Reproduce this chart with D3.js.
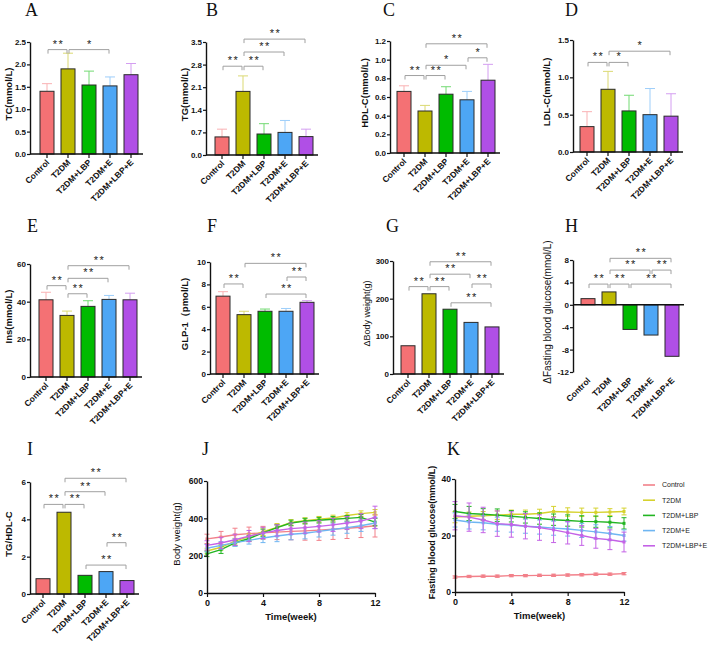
<!DOCTYPE html>
<html>
<head>
<meta charset="utf-8">
<script src="https://cdn.jsdelivr.net/npm/d3@7"></script>
<style>
  body { margin: 0; background: #fff; }
</style>
</head>
<body>
<svg id="fig" width="709" height="646"></svg>
<script>
const FONT = "'Liberation Sans', Arial, sans-serif";
const SERIF = "'Liberation Serif', 'Times New Roman', serif";

const groups = ["Control", "T2DM", "T2DM+LBP", "T2DM+E", "T2DM+LBP+E"];
const barColors = ["#f47174", "#bdb900", "#00bb00", "#4da6f5", "#b04fe6"];
const lineColors = ["#f2808a", "#d6d22e", "#22b522", "#6fb6f2", "#c462e6"];

// bar panels: mean, upper error, significance [from, to, level, stars]
const tcMean = [1.40, 1.90, 1.54, 1.52, 1.77];
const tcErr = [0.17, 0.35, 0.31, 0.20, 0.25];
const tcSig = [[0, 1, 2.33, "**"], [1, 3, 2.33, "*"]];

const tgMean = [0.56, 1.97, 0.65, 0.70, 0.57];
const tgErr = [0.24, 0.48, 0.32, 0.37, 0.23];
const tgSig = [[0, 1, 2.75, "**"], [1, 2, 2.75, "**"], [1, 3, 3.19, "**"], [1, 4, 3.59, "**"]];

const hdlMean = [0.66, 0.45, 0.63, 0.57, 0.78];
const hdlErr = [0.06, 0.06, 0.08, 0.09, 0.17];
const hdlSig = [[0, 1, 0.83, "**"], [1, 2, 0.83, "**"], [1, 3, 0.94, "*"], [3, 4, 1.02, "*"], [1, 4, 1.17, "**"]];

const ldlMean = [0.34, 0.84, 0.55, 0.50, 0.48];
const ldlErr = [0.20, 0.24, 0.21, 0.35, 0.30];
const ldlSig = [[0, 1, 1.2, "**"], [1, 2, 1.2, "*"], [1, 4, 1.35, "*"]];

const insMean = [41.0, 32.7, 37.5, 41.2, 41.0];
const insErr = [4.0, 2.3, 3.0, 2.1, 3.5];
const insSig = [[0, 1, 48.5, "**"], [1, 2, 44.2, "**"], [1, 3, 52.4, "**"], [1, 4, 59.1, "**"]];

const glpMean = [6.95, 5.30, 5.60, 5.60, 6.40];
const glpErr = [0.40, 0.30, 0.20, 0.25, 0.15];
const glpSig = [[0, 1, 8.04, "**"], [2, 4, 7.14, "**"], [3, 4, 8.66, "**"], [1, 4, 9.88, "**"]];

const bwMean = [75, 213, 172, 137, 125];
const bwSig = [[0, 1, 232, "**"], [1, 2, 232, "**"], [2, 4, 189, "**"], [3, 4, 239, "**"], [1, 3, 265, "**"], [1, 4, 298, "**"]];

const fbgMean = [1.1, 2.3, -4.4, -5.4, -9.2];
const fbgSig = [[0, 1, 3.7, "**"], [1, 2, 3.7, "**"], [2, 4, 3.7, "**"], [1, 3, 6.2, "**"], [3, 4, 6.2, "**"], [1, 4, 8.3, "**"]];

const ratioMean = [0.82, 4.38, 1.00, 1.20, 0.72];
const ratioSig = [[0, 1, 4.8, "**"], [1, 2, 4.8, "**"], [1, 3, 5.48, "**"], [1, 4, 6.2, "**"], [3, 4, 2.75, "**"], [2, 4, 1.55, "**"]];

// time courses, weeks 0..12
const weeks = d3.range(0, 13);
const bodyWeight = [
  [290, 300, 312, 318, 322, 326, 330, 333, 337, 342, 347, 352, 360],
  [225, 245, 278, 302, 328, 352, 378, 388, 395, 402, 415, 425, 432],
  [210, 232, 268, 292, 322, 350, 375, 385, 390, 395, 400, 405, 380],
  [240, 255, 270, 282, 295, 305, 315, 320, 330, 340, 350, 360, 375],
  [255, 268, 285, 305, 322, 335, 345, 350, 357, 365, 375, 385, 405]
];
const bodyWeightErr = [
  [25, 30, 35, 35, 35, 40, 45, 50, 55, 55, 55, 55, 60],
  [15, 15, 15, 15, 20, 20, 15, 15, 15, 15, 15, 15, 15],
  [15, 20, 15, 15, 20, 15, 15, 15, 15, 15, 15, 15, 20],
  [20, 20, 20, 20, 25, 30, 30, 30, 30, 30, 30, 30, 30],
  [25, 30, 30, 30, 30, 30, 30, 30, 30, 35, 35, 40, 60]
];
const glucose = [
  [5.3, 5.5, 5.6, 5.6, 5.8, 5.8, 5.9, 5.9, 6.0, 6.1, 6.3, 6.3, 6.5],
  [26.5, 26.8, 27.0, 27.2, 27.5, 27.5, 27.8, 28.5, 28.3, 28.2, 28.2, 28.3, 28.5],
  [28.5, 27.8, 27.5, 27.2, 26.8, 26.4, 26.0, 25.6, 25.3, 25.0, 24.9, 24.7, 24.3],
  [25.5, 24.8, 24.5, 24.0, 23.7, 23.3, 23.0, 22.6, 22.3, 21.8, 21.3, 20.7, 20.0],
  [27.0, 26.5, 25.5, 24.2, 23.9, 23.3, 22.8, 22.0, 21.0, 20.0, 19.0, 18.5, 17.7]
];
const glucoseErr = [
  [0.4, 0.4, 0.4, 0.4, 0.4, 0.4, 0.4, 0.4, 0.4, 0.4, 0.4, 0.4, 0.4],
  [2.0, 1.5, 1.5, 1.5, 1.5, 1.5, 1.5, 1.8, 1.5, 1.5, 1.5, 1.2, 1.2],
  [2.5, 2.5, 2.0, 2.2, 2.0, 2.0, 2.0, 2.0, 2.0, 2.0, 2.0, 2.0, 2.0],
  [2.5, 2.5, 2.5, 2.5, 2.5, 2.5, 2.5, 2.5, 2.5, 2.5, 2.5, 2.5, 2.0],
  [5.0, 5.0, 4.5, 4.5, 4.5, 4.5, 4.5, 4.5, 4.0, 3.5, 3.5, 3.5, 3.5]
];

const svg = d3.select("#fig");

function styleAxis(g, size) {
  g.select(".domain").attr("stroke", "#111").attr("stroke-width", 1.4);
  g.selectAll(".tick line").attr("stroke", "#111").attr("stroke-width", 1.2);
  g.selectAll(".tick text")
    .attr("font-family", FONT).attr("font-size", size || 8)
    .attr("font-weight", "bold").attr("fill", "#111");
}

function letter(t, x, y) {
  svg.append("text").attr("x", x).attr("y", y)
    .attr("font-family", SERIF).attr("font-size", 18).attr("fill", "#111")
    .text(t);
}

function yLabel(t, x, cy, bold, size) {
  svg.append("text")
    .attr("transform", `translate(${x},${cy}) rotate(-90)`)
    .attr("text-anchor", "middle").attr("dy", "0.35em")
    .attr("font-family", FONT).attr("font-size", size)
    .attr("font-weight", bold ? "bold" : "normal").attr("fill", "#111")
    .text(t);
}

const fmt = f => d => d3.format(f)(d).replace("\u2212", "-");

function barPanel(p) {
  const g = svg.append("g");
  const y = d3.scaleLinear().domain(p.dom).range([p.bottom, p.top]);
  const x = d3.scalePoint().domain(groups).range([p.first, p.first + 84]);
  const bw = 14;
  const y0 = y(0);

  if (p.err) {
    const eb = g.append("g");
    p.mean.forEach((m, i) => {
      const c = d3.interpolateRgb(barColors[i], "#fff")(0.45);
      const cx = x(groups[i]);
      eb.append("line").attr("x1", cx).attr("x2", cx)
        .attr("y1", y(m)).attr("y2", y(m + p.err[i]))
        .attr("stroke", c).attr("stroke-width", 1);
      eb.append("line").attr("x1", cx - 5).attr("x2", cx + 5)
        .attr("y1", y(m + p.err[i])).attr("y2", y(m + p.err[i]))
        .attr("stroke", c).attr("stroke-width", 1);
    });
  }

  g.selectAll("rect.bar").data(p.mean).join("rect")
    .attr("class", "bar")
    .attr("x", (d, i) => x(groups[i]) - bw / 2)
    .attr("width", bw)
    .attr("y", d => Math.min(y(d), y0))
    .attr("height", d => Math.abs(y(d) - y0))
    .attr("fill", (d, i) => barColors[i])
    .attr("stroke", "#2a2a2a").attr("stroke-width", 1);

  const ya = g.append("g").attr("transform", `translate(${p.left},0)`)
    .call(d3.axisLeft(y).tickValues(p.ticks).tickFormat(fmt(p.fmt)).tickSize(3).tickSizeOuter(0).tickPadding(1));
  styleAxis(ya);

  g.append("line").attr("x1", p.left).attr("x2", p.first + 84 + 12)
    .attr("y1", y0).attr("y2", y0).attr("stroke", "#111").attr("stroke-width", 1.4);

  if (!p.noTicks) {
    g.selectAll("line.ct").data(groups).join("line").attr("class", "ct")
      .attr("x1", d => x(d)).attr("x2", d => x(d))
      .attr("y1", y0).attr("y2", y0 + 4)
      .attr("stroke", "#111").attr("stroke-width", 1.2);
  }

  g.selectAll("text.cat").data(groups).join("text").attr("class", "cat")
    .attr("transform", d => `translate(${x(d) + 3},${p.bottom + 9}) rotate(-45)`)
    .attr("text-anchor", "end")
    .attr("font-family", FONT).attr("font-size", 8.5).attr("font-weight", "bold").attr("fill", "#111")
    .text(d => d);

  p.sig.forEach(([a, b, lv, s]) => {
    const ly = y(lv);
    const x1 = x(groups[a]) + 1, x2 = x(groups[b]) - 1;
    g.append("path")
      .attr("d", `M${x1},${ly + 4}V${ly}H${x2}V${ly + 4}`)
      .attr("fill", "none").attr("stroke", "#a0a0a0").attr("stroke-width", 1);
    g.append("text").attr("x", (x1 + x2) / 2 + 1).attr("y", ly - 2)
      .attr("text-anchor", "middle").attr("letter-spacing", 1.5)
      .attr("font-family", FONT).attr("font-size", 11).attr("fill", "#222")
      .text(s);
  });

  letter(p.letter, p.lx, p.ly);
  yLabel(p.label, p.labX, (p.top + p.bottom) / 2 - 4, p.bold !== false, p.labSize || 9.5);
}

function linePanel(p) {
  const g = svg.append("g");
  const x = d3.scaleLinear().domain([0, 12]).range([p.left, p.right]);
  const y = d3.scaleLinear().domain(p.dom).range([p.bottom, p.top]);

  p.data.forEach((series, k) => {
    const c = lineColors[k];
    const eg = g.append("g");
    series.forEach((v, i) => {
      const cx = x(weeks[i]), e = p.err[k][i];
      eg.append("line").attr("x1", cx).attr("x2", cx).attr("y1", y(v - e)).attr("y2", y(v + e))
        .attr("stroke", c).attr("stroke-width", 1);
      [v - e, v + e].forEach(t => {
        eg.append("line").attr("x1", cx - 2.5).attr("x2", cx + 2.5).attr("y1", y(t)).attr("y2", y(t))
          .attr("stroke", c).attr("stroke-width", 1);
      });
    });
    g.append("path").datum(series)
      .attr("d", d3.line().x((d, i) => x(weeks[i])).y(d => y(d)))
      .attr("fill", "none").attr("stroke", c).attr("stroke-width", 1.4);
    g.selectAll(null).data(series).join("rect")
      .attr("x", (d, i) => x(weeks[i]) - 1.5).attr("y", d => y(d) - 1.5)
      .attr("width", 3).attr("height", 3).attr("fill", c);
  });

  const ya = g.append("g").attr("transform", `translate(${p.left},0)`)
    .call(d3.axisLeft(y).tickValues(p.ticks).tickSize(3).tickSizeOuter(0).tickPadding(1));
  styleAxis(ya, 8.5);
  const xa = g.append("g").attr("transform", `translate(0,${p.bottom})`)
    .call(d3.axisBottom(x).tickValues([0, 4, 8, 12]).tickSize(4).tickSizeOuter(0).tickPadding(3));
  styleAxis(xa, 9);

  svg.append("text").attr("x", (p.left + p.right) / 2).attr("y", p.bottom + 27)
    .attr("text-anchor", "middle").attr("font-family", FONT).attr("font-size", 9.5)
    .attr("font-weight", "bold").attr("fill", "#111").text("Time(week)");

  letter(p.letter, p.lx, p.ly);
  yLabel(p.label, p.labX, (p.top + p.bottom) / 2 - 3, p.bold, p.labSize);

  if (p.legend) {
    const lg = svg.append("g");
    groups.forEach((name, k) => {
      const ly = p.legend.y + k * 15.2;
      lg.append("line").attr("x1", p.legend.x).attr("x2", p.legend.x + 12)
        .attr("y1", ly).attr("y2", ly).attr("stroke", lineColors[k]).attr("stroke-width", 1.6);
      lg.append("text").attr("x", p.legend.x + 19).attr("y", ly).attr("dy", "0.35em")
        .attr("font-family", FONT).attr("font-size", 7).attr("fill", "#222").text(name);
    });
  }
}

barPanel({ letter: "A", lx: 25, ly: 16, label: "TC(mmol/L)", labX: 9, left: 30, top: 42, bottom: 154, first: 47,
  dom: [0, 2.5], ticks: [0, 0.5, 1, 1.5, 2, 2.5], fmt: ".1f", mean: tcMean, err: tcErr, sig: tcSig });
barPanel({ letter: "B", lx: 206, ly: 16, label: "TG(mmol/L)", labX: 185, left: 206, top: 42, bottom: 155, first: 222,
  dom: [0, 3.5], ticks: [0, 0.7, 1.4, 2.1, 2.8, 3.5], fmt: ".1f", mean: tgMean, err: tgErr, sig: tgSig });
barPanel({ letter: "C", lx: 383, ly: 16, label: "HDL-C(mmol/L)", labX: 365, left: 390, top: 41, bottom: 153, first: 404,
  dom: [0, 1.2], ticks: [0, 0.2, 0.4, 0.6, 0.8, 1.0, 1.2], fmt: ".1f", mean: hdlMean, err: hdlErr, sig: hdlSig });
barPanel({ letter: "D", lx: 565, ly: 16, label: "LDL-C(mmol/L)", labX: 547, left: 573, top: 40, bottom: 152, first: 587,
  dom: [0, 1.5], ticks: [0, 0.5, 1.0, 1.5], fmt: ".1f", mean: ldlMean, err: ldlErr, sig: ldlSig });

barPanel({ letter: "E", lx: 27, ly: 232, label: "Ins(mmol/L)", labX: 9, left: 30, top: 264, bottom: 377, first: 46,
  dom: [0, 60], ticks: [0, 20, 40, 60], fmt: "d", mean: insMean, err: insErr, sig: insSig });
barPanel({ letter: "F", lx: 207, ly: 232, label: "GLP-1\uff08pmol/L)", labX: 185, left: 210, top: 262, bottom: 374, first: 223,
  dom: [0, 10], ticks: [0, 2, 4, 6, 8, 10], fmt: "d", mean: glpMean, err: glpErr, sig: glpSig });
barPanel({ letter: "G", lx: 386, ly: 232, label: "\u0394Body weight(g)", labX: 367, bold: false, labSize: 9, left: 393, top: 261, bottom: 374, first: 408,
  dom: [0, 300], ticks: [0, 100, 200, 300], fmt: "d", mean: bwMean, sig: bwSig });
barPanel({ letter: "H", lx: 565, ly: 232, label: "\u0394Fasting blood glucose(mmol/L)", labX: 547, bold: false, labSize: 10, left: 573, top: 260, bottom: 372, first: 588,
  dom: [-12, 8], ticks: [-12, -8, -4, 0, 4, 8], fmt: "d", mean: fbgMean, sig: fbgSig, noTicks: true });

barPanel({ letter: "I", lx: 27, ly: 455, label: "TG/HDL-C", labX: 9, left: 30, top: 482, bottom: 594, first: 43,
  dom: [0, 6], ticks: [0, 2, 4, 6], fmt: "d", mean: ratioMean, sig: ratioSig });

linePanel({ letter: "J", lx: 202, ly: 455, label: "Body weight(g)", labX: 177, bold: false, labSize: 9.5,
  left: 207, right: 375, top: 481, bottom: 593, dom: [0, 600], ticks: [0, 200, 400, 600],
  data: bodyWeight, err: bodyWeightErr });
linePanel({ letter: "K", lx: 447, ly: 455, label: "Fasting blood glucose(mmol/L)", labX: 432, bold: true, labSize: 9,
  left: 455, right: 624, top: 479, bottom: 592, dom: [0, 40], ticks: [0, 20, 40],
  data: glucose, err: glucoseErr, legend: { x: 643, y: 485 } });
</script>
</body>
</html>
